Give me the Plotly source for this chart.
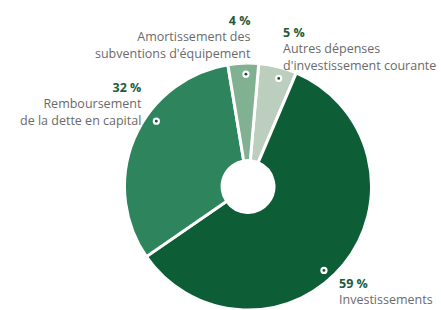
import math
import plotly.graph_objects as go

# ---- data ----
labels = ["Autres dépenses d'investissement courante", "Investissements",
          "Remboursement de la dette en capital", "Amortissement des subventions d'équipement"]
values = [5, 59, 32, 4]
pct_labels = ["5 %", "59 %", "32 %", "4 %"]
name_lines = [["Autres dépenses", "d'investissement courante"],
              ["Investissements"],
              ["Remboursement", "de la dette en capital"],
              ["Amortissement des", "subventions d'équipement"]]

# ---- style ----
colors = ["#bccfbf", "#0d5e37", "#2e845c", "#82b192"]
W, H = 441, 310
cx, cy, R = 248, 187, 124
rotation = 5
dot_frac = [0.6, 0.54, 0.61, 0.58]
dot_r = 0.91
pct_color = "#1e5b3b"
name_color = "#6a6a6a"
FONT = "Open Sans"
FS = 12.5
# label block anchors: (x, block top y, alignment) in pixels
label_pos = [(282, 23, "left"), (338, 274, "left"), (143, 78, "right"), (252, 11, "right")]

dom_x = [(cx - R) / W, (cx + R) / W]
dom_y = [max(0, (H - (cy + R)) / H), (H - (cy - R)) / H]

fig = go.Figure()
fig.add_trace(go.Pie(
    labels=labels, values=values, sort=False, direction="clockwise",
    rotation=rotation, hole=0.21,
    marker=dict(colors=colors, line=dict(color="white", width=3)),
    textinfo="none", hoverinfo="none", showlegend=False,
    domain=dict(x=dom_x, y=dom_y),
))

# dot markers inside each slice (positions derived from the slice angles)
total = sum(values)
cum = 0
shapes = []
for v, f in zip(values, dot_frac):
    th = math.radians(rotation + 360 * (cum + f * v) / total)
    cum += v
    px = cx + dot_r * R * math.sin(th)
    py = cy - dot_r * R * math.cos(th)
    for rad, col in ((3.6, "white"), (1.4, "#1e4a33")):
        shapes.append(dict(type="circle", xref="paper", yref="paper", layer="above",
                           x0=(px - rad) / W, x1=(px + rad) / W,
                           y0=1 - (py + rad) / H, y1=1 - (py - rad) / H,
                           fillcolor=col, line=dict(width=0)))

for pct, lines, (px, py, al) in zip(pct_labels, name_lines, label_pos):
    txt = f"<b><span style='color:{pct_color}'>{pct}</span></b><br>" + "<br>".join(lines)
    fig.add_annotation(text=txt, x=px / W, y=1 - py / H, xref="paper", yref="paper",
                       xanchor=al, yanchor="top", align=al, borderpad=0,
                       showarrow=False, font=dict(family=FONT, size=FS, color=name_color))

fig.update_layout(
    width=W, height=H, margin=dict(l=0, r=0, t=0, b=0),
    paper_bgcolor="white", plot_bgcolor="white", shapes=shapes,
)
fig.write_html("out.html", config={"displayModeBar": False},
               post_script="document.body.style.margin='0px';")
